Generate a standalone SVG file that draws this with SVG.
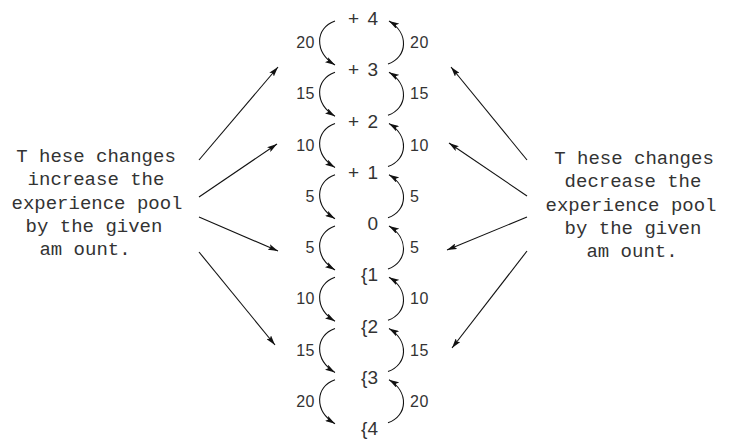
<svg xmlns="http://www.w3.org/2000/svg" width="738" height="439" viewBox="0 0 738 439">
<style>
.bg{fill:#fff}
.node{font-family:"Liberation Sans",Arial,sans-serif;font-size:19px;fill:#333;text-anchor:end;word-spacing:3px}
.lbl{font-family:"Liberation Sans",Arial,sans-serif;font-size:16px;fill:#333;letter-spacing:0.5px}
.lbl.l{text-anchor:end}
.side{font-family:"Liberation Mono","Courier New",monospace;font-size:19px;fill:#333;text-anchor:middle}
.c{fill:none;stroke:#111;stroke-width:1.1;marker-end:url(#ah)}
</style>
<defs>
<marker id="ah" viewBox="0 0 10 6" refX="10" refY="3" markerWidth="10" markerHeight="6" markerUnits="userSpaceOnUse" orient="auto">
<path d="M0,0 L10,3 L0,6 L2,3 Z" fill="#111"/>
</marker>
</defs>
<rect class="bg" x="0" y="0" width="738" height="439"/>

<g id="nodes">
<g id="n-p4"><text class="node" x="378" y="25">+ 4</text></g>
<g id="n-p3"><text class="node" x="378" y="76.25">+ 3</text></g>
<g id="n-p2"><text class="node" x="378" y="127.5">+ 2</text></g>
<g id="n-p1"><text class="node" x="378" y="178.75">+ 1</text></g>
<g id="n-0"><text class="node" x="378" y="230">0</text></g>
<g id="n-m1"><text class="node" x="378" y="281.25">{1</text></g>
<g id="n-m2"><text class="node" x="378" y="332.5">{2</text></g>
<g id="n-m3"><text class="node" x="378" y="383.75">{3</text></g>
<g id="n-m4"><text class="node" x="378" y="435">{4</text></g>
<g id="n-increase">
<text class="side" x="96" y="162">T hese changes</text>
<text class="side" x="96" y="185.3">increase the</text>
<text class="side" x="97" y="208.6">experience pool</text>
<text class="side" x="94" y="231.9">by the given</text>
<text class="side" x="85" y="255.2">am ount.</text>
</g>
<g id="n-decrease">
<text class="side" x="634" y="164">T hese changes</text>
<text class="side" x="633" y="187.3">decrease the</text>
<text class="side" x="631" y="210.6">experience pool</text>
<text class="side" x="633" y="233.9">by the given</text>
<text class="side" x="632" y="257.2">am ount.</text>
</g>
</g>

<g id="connectors">
<g id="arcs-down">
<path class="c" d="M335,21 C315,28 314,52 335,65"/>
<path class="c" d="M335,72.25 C315,79.25 314,103.25 335,116.25"/>
<path class="c" d="M335,123.5 C315,130.5 314,154.5 335,167.5"/>
<path class="c" d="M335,174.75 C315,181.75 314,205.75 335,218.75"/>
<path class="c" d="M335,226 C315,233 314,257 335,270"/>
<path class="c" d="M335,277.25 C315,284.25 314,308.25 335,321.25"/>
<path class="c" d="M335,328.5 C315,335.5 314,359.5 335,372.5"/>
<path class="c" d="M335,379.75 C315,386.75 314,410.75 335,423.75"/>
</g>
<g id="arcs-up">
<path class="c" d="M388,64 C408,57 409,33 389,21"/>
<path class="c" d="M388,115.25 C408,108.25 409,84.25 389,72.25"/>
<path class="c" d="M388,166.5 C408,159.5 409,135.5 389,123.5"/>
<path class="c" d="M388,217.75 C408,210.75 409,186.75 389,174.75"/>
<path class="c" d="M388,269 C408,262 409,238 389,226"/>
<path class="c" d="M388,320.25 C408,313.25 409,289.25 389,277.25"/>
<path class="c" d="M388,371.5 C408,364.5 409,340.5 389,328.5"/>
<path class="c" d="M388,422.75 C408,415.75 409,391.75 389,379.75"/>
</g>
<g id="labels-left">
<text class="lbl l" x="315" y="48">20</text>
<text class="lbl l" x="315" y="99.25">15</text>
<text class="lbl l" x="315" y="150.5">10</text>
<text class="lbl l" x="315" y="201.75">5</text>
<text class="lbl l" x="315" y="253">5</text>
<text class="lbl l" x="315" y="304.25">10</text>
<text class="lbl l" x="315" y="355.5">15</text>
<text class="lbl l" x="315" y="406.75">20</text>
</g>
<g id="labels-right">
<text class="lbl" x="410" y="48">20</text>
<text class="lbl" x="410" y="99.25">15</text>
<text class="lbl" x="410" y="150.5">10</text>
<text class="lbl" x="410" y="201.75">5</text>
<text class="lbl" x="410" y="253">5</text>
<text class="lbl" x="410" y="304.25">10</text>
<text class="lbl" x="410" y="355.5">15</text>
<text class="lbl" x="410" y="406.75">20</text>
</g>
<g id="arrows-left">
<line class="c" x1="199" y1="160" x2="278" y2="67"/>
<line class="c" x1="199" y1="197" x2="277" y2="144"/>
<line class="c" x1="199" y1="217" x2="278" y2="251"/>
<line class="c" x1="199" y1="252" x2="275" y2="345"/>
</g>
<g id="arrows-right">
<line class="c" x1="527" y1="160" x2="451" y2="67"/>
<line class="c" x1="527" y1="196" x2="449" y2="143"/>
<line class="c" x1="527" y1="217" x2="447" y2="250"/>
<line class="c" x1="527" y1="251" x2="452" y2="348"/>
</g>
</g>
</svg>
